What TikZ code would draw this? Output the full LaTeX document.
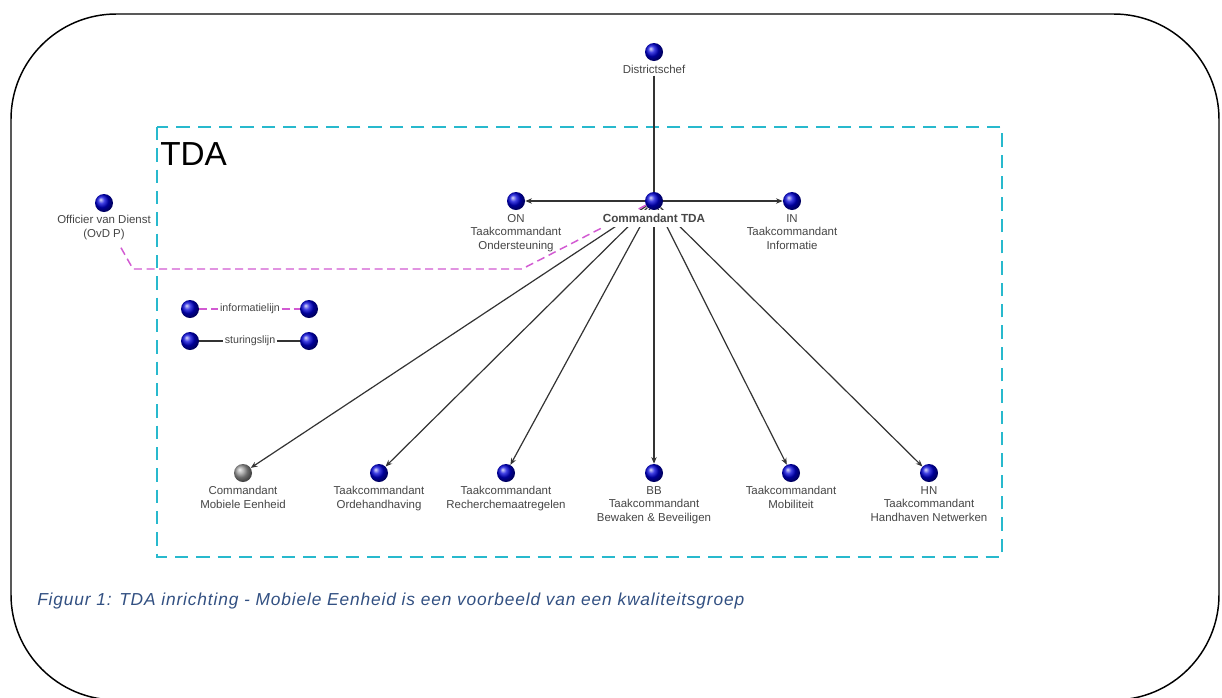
\documentclass[tikz,border=0pt]{standalone}
\usepackage{fontspec}
\setmainfont{Liberation Sans}
\usetikzlibrary{arrows.meta}
\definecolor{tdacyan}{RGB}{40,185,205}
\definecolor{infopink}{RGB}{210,90,210}
\definecolor{lbltext}{RGB}{70,70,70}
\definecolor{captblue}{RGB}{50,80,130}
\tikzset{
  bal/.style={circle,shading=ball,ball color=blue!85!black,minimum size=13.5pt,inner sep=0pt},
  greybal/.style={circle,shading=ball,ball color=gray!80,minimum size=13.5pt,inner sep=0pt},
  lbl/.style={font=\fontsize{8.6}{10}\selectfont,text=lbltext,align=center,inner sep=1pt,anchor=north},
  sturing/.style={draw=black!80,line width=0.9pt},
  arr/.style={sturing,-{Stealth[length=5pt,width=4pt]}},
  info/.style={draw=infopink,line width=1.1pt,dash pattern=on 6pt off 3.5pt},
  tdabox/.style={draw=tdacyan,line width=1.8pt,dash pattern=on 10pt off 6pt},
  legtext/.style={font=\fontsize{8}{9}\selectfont,text=lbltext,inner sep=1pt},
}
\begin{document}
\begin{tikzpicture}[x=0.75pt,y=-0.75pt]
\useasboundingbox (0,0) rectangle (1222,697);
\fill[white] (0,0) rectangle (1222,697);
% outer frame
\draw[line width=1.1pt,rounded corners=79pt] (11,14) rectangle (1219,700);
% TDA box
\draw[tdabox] (157,127) rectangle (1002,557);
\node[anchor=north west,font=\fontsize{25}{28}\selectfont,inner sep=0pt] (tda) at (160,142) {TDA};

% balls
\node[bal] (dc) at (654,52) {};
\node[bal] (cmd) at (654,201) {};
\node[bal] (on) at (516,201) {};
\node[bal] (in) at (792,201) {};
\node[bal] (ovd) at (104,203) {};
\node[greybal] (me) at (243,473) {};
\node[bal] (oh) at (379,473) {};
\node[bal] (rm) at (506,473) {};
\node[bal] (bb) at (654,473) {};
\node[bal] (mo) at (791,473) {};
\node[bal] (hn) at (929,473) {};

% connectors from commandant (under label)
\draw[arr] (cmd) -- (me);
\draw[arr] (cmd) -- (oh);
\draw[arr] (cmd) -- (rm);
\draw[arr] (cmd) -- (bb);
\draw[arr] (cmd) -- (mo);
\draw[arr] (cmd) -- (hn);
\draw[arr] (cmd) -- (on);
\draw[arr] (cmd) -- (in);

% info line to OvD
\coordinate (k1) at (522,269);
\coordinate (k2) at (133,269);
\coordinate (k3) at (120,246);
\draw[info] (cmd) -- (k1) -- (k2) -- (k3);

% labels
\node[lbl] (dcl) at (654,64) {Districtschef};
\node[lbl,fill=white,inner sep=3pt,font=\bfseries\fontsize{8.8}{10}\selectfont] (cmdl) at (654,210) {Commandant TDA};
\node[lbl] (onl) at (516,213) {ON\\Taakcommandant\\Ondersteuning};
\node[lbl] (inl) at (792,213) {IN\\Taakcommandant\\Informatie};
\node[lbl] (ovdl) at (104,214) {Officier van Dienst\\(OvD P)};
\node[lbl] (mel) at (243,485) {Commandant\\Mobiele Eenheid};
\node[lbl] (ohl) at (379,485) {Taakcommandant\\Ordehandhaving};
\node[lbl] (rml) at (506,485) {Taakcommandant\\Recherchemaatregelen};
\node[lbl] (bbl) at (654,485) {BB\\Taakcommandant\\Bewaken \& Beveiligen};
\node[lbl] (mol) at (791,485) {Taakcommandant\\Mobiliteit};
\node[lbl] (hnl) at (929,485) {HN\\Taakcommandant\\Handhaven Netwerken};

\draw[sturing] (dcl) -- (cmd);

% legend
\node[bal] (la1) at (190,309) {};
\node[bal] (lb1) at (309,309) {};
\node[bal] (la2) at (190,341) {};
\node[bal] (lb2) at (309,341) {};
\node[legtext] (lt1) at (250,309) {informatielijn};
\node[legtext] (lt2) at (250,341) {sturingslijn};
\draw[info,dash pattern=on 6pt off 3pt] (la1) -- (lt1);
\draw[info,dash pattern=on 6pt off 3pt] (lt1) -- (lb1);
\draw[sturing] (la2) -- (lt2);
\draw[sturing] (lt2) -- (lb2);

% caption
\node[anchor=west,font=\itshape\fontsize{13}{15}\selectfont\addfontfeature{LetterSpace=5},text=captblue,inner sep=0pt] (cap) at (37,601) {Figuur 1: TDA inrichting - Mobiele Eenheid is een voorbeeld van een kwaliteitsgroep};
\end{tikzpicture}
\end{document}
